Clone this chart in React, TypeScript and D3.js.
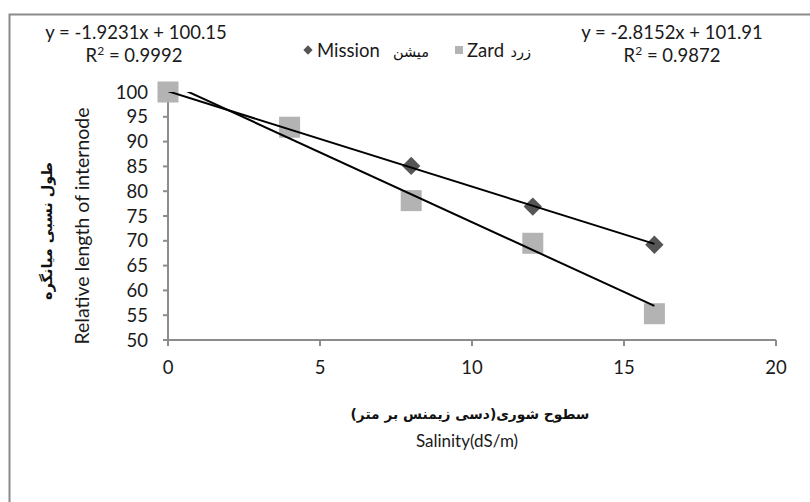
import React from "react";
import * as d3 from "d3";

const salinity = [0, 4, 8, 12, 16];
const missionValues = [100, 92.5, 85.1, 76.9, 69.2];
const zardValues = [100, 92.9, 78.1, 69.5, 55.3];
const missionTrend = { slope: -1.9231, intercept: 100.15 };
const zardTrend = { slope: -2.8152, intercept: 101.91 };
const xTicks = [0, 5, 10, 15, 20];
const yTicks = [50, 55, 60, 65, 70, 75, 80, 85, 90, 95, 100];
const trendRange = [0, 16];

const W = 810;
const H = 502;
const FONT = "Lato, 'Open Sans', sans-serif";
const AR = "'DejaVu Sans', sans-serif";

export default function App() {
  const x = d3.scaleLinear().domain([0, 20]).range([168, 776]);
  const y = d3.scaleLinear().domain([50, 100]).range([340, 92]);
  const axisColor = "#8c8c8c";

  const trendLine = (t: { slope: number; intercept: number }) =>
    d3
      .line<number>()
      .x((d) => x(d))
      .y((d) => y(t.slope * d + t.intercept))(trendRange);

  const diamond = d3.symbol().type(d3.symbolDiamond2).size(215)();

  return (
    <svg
      width={W}
      height={H}
      style={{ position: "absolute", left: 0, top: 0, background: "#fff" }}
    >
      <defs>
        <clipPath id="plotClip">
          <rect x={x(0)} y={y(100)} width={x(20) - x(0)} height={y(50) - y(100)} />
        </clipPath>
      </defs>
      <rect x={0} y={0} width={W} height={H} fill="#fff" />
      {/* outer frame */}
      <rect x={9.5} y={14.5} width={900} height={600} fill="none" stroke="#8a8a8a" strokeWidth={2} />

      {/* equations */}
      <g fontFamily={FONT} fontSize={18.5} fill="#1a1a1a" textAnchor="middle">
        <text x={136} y={39}>y = -1.9231x + 100.15</text>
        <text x={134} y={62}>
          R<tspan dy={-7} fontSize={12}>2</tspan>
          <tspan dy={7}> = 0.9992</tspan>
        </text>
        <text x={672} y={39}>y = -2.8152x + 101.91</text>
        <text x={672} y={62}>
          R<tspan dy={-7} fontSize={12}>2</tspan>
          <tspan dy={7}> = 0.9872</tspan>
        </text>
      </g>

      {/* legend */}
      <g>
        <path d={d3.symbol().type(d3.symbolDiamond2).size(55)()!} transform="translate(308,50)" fill="#555" />
        <text x={317} y={57} fontFamily={FONT} fontSize={18.5} fill="#1a1a1a">Mission</text>
        <text x={429} y={57} fontFamily={AR} fontSize={14.5} fill="#111" textAnchor="end">میشن</text>
        <rect x={455} y={46} width={8} height={8} fill="#b3b3b3" />
        <text x={467} y={57} fontFamily={FONT} fontSize={18.5} fill="#1a1a1a">Zard</text>
        <text x={531} y={57} fontFamily={AR} fontSize={14.5} fill="#111" textAnchor="end">زرد</text>
      </g>

      {/* axes */}
      <line x1={x(0)} x2={x(0)} y1={y(100)} y2={y(50)} stroke={axisColor} strokeWidth={2} />
      <line x1={x(0)} x2={x(20)} y1={y(50)} y2={y(50)} stroke={axisColor} strokeWidth={2} />
      {yTicks.map((t) => (
        <g key={"y" + t}>
          <line x1={x(0) - 5} x2={x(0)} y1={y(t)} y2={y(t)} stroke={axisColor} strokeWidth={2} />
          <text x={148} y={y(t) + 6.5} textAnchor="end" fontFamily={FONT} fontSize={18.5} fill="#1a1a1a">
            {t}
          </text>
        </g>
      ))}
      {xTicks.map((t) => (
        <g key={"x" + t}>
          <line x1={x(t)} x2={x(t)} y1={y(50)} y2={y(50) + 6} stroke={axisColor} strokeWidth={2} />
          <text x={x(t)} y={374} textAnchor="middle" fontFamily={FONT} fontSize={18.5} fill="#1a1a1a">
            {t}
          </text>
        </g>
      ))}

      {/* axis titles */}
      <text x={470} y={419} textAnchor="middle" fontFamily={AR} fontSize={13.8} fontWeight="bold" fill="#111" direction="rtl">
        سطوح شوری(دسی زیمنس بر متر)
      </text>
      <text x={467} y={447} textAnchor="middle" fontFamily={FONT} fontSize={17} fill="#1a1a1a">
        Salinity(dS/m)
      </text>
      <text
        transform="translate(52,231) rotate(-90)"
        textAnchor="middle"
        fontFamily={AR}
        fontSize={14.5}
        fontWeight="bold"
        fill="#111"
        direction="rtl"
      >
        طول نسبی میانگره
      </text>
      <text
        transform="translate(89,226) rotate(-90)"
        textAnchor="middle"
        fontFamily={FONT}
        fontSize={19.5}
        fill="#1a1a1a"
      >
        Relative length of internode
      </text>

      {/* markers */}
      {salinity.map((s, i) => (
        <path key={"m" + i} d={diamond!} transform={`translate(${x(s)},${y(missionValues[i])})`} fill="#555" />
      ))}
      {salinity.map((s, i) => (
        <rect key={"z" + i} x={x(s) - 10.5} y={y(zardValues[i]) - 10.5} width={21} height={21} fill="#b3b3b3" />
      ))}

      {/* trendlines */}
      <g clipPath="url(#plotClip)" fill="none" stroke="#000" strokeWidth={2}>
        <path d={trendLine(missionTrend)!} />
        <path d={trendLine(zardTrend)!} />
      </g>
    </svg>
  );
}
